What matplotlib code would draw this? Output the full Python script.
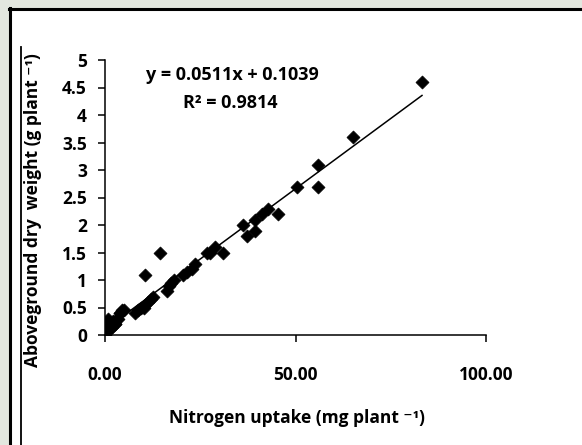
import matplotlib
matplotlib.use('Agg')
import matplotlib.pyplot as plt
from matplotlib.patches import Rectangle
from matplotlib.lines import Line2D

# Datos
nitrogen_uptake = [0.0, 0.2, 0.3, 0.5, 0.8, 1.0, 1.3, 1.5, 1.8, 2.1, 2.5, 2.6, 3.1,
                   3.5, 3.9, 4.0, 4.5, 5.0, 8.0, 8.6, 9.5, 10.2, 10.5, 11.3, 12.0,
                   12.6, 10.5, 14.4, 16.2, 16.8, 17.4, 18.0, 20.5, 21.5, 22.8, 23.6,
                   26.7, 27.6, 28.9, 31.0, 36.2, 37.2, 39.4, 39.4, 41.2, 42.8, 45.4,
                   50.4, 55.9, 55.9, 65.1, 83.2]
dry_weight = [0.0, 0.05, 0.05, 0.1, 0.3, 0.1, 0.2, 0.15, 0.15, 0.25, 0.2, 0.2, 0.3,
              0.3, 0.4, 0.4, 0.45, 0.45, 0.4, 0.45, 0.5, 0.5, 0.55, 0.6, 0.65,
              0.7, 1.1, 1.5, 0.8, 0.9, 0.95, 1.0, 1.1, 1.15, 1.2, 1.3,
              1.5, 1.5, 1.6, 1.5, 2.0, 1.8, 2.1, 1.9, 2.2, 2.3, 2.2,
              2.7, 3.1, 2.7, 3.6, 4.6]

# Línea de tendencia indicada en el gráfico
slope = 0.0511
intercept = 0.1039
r2 = 0.9814

x_ticks = [0, 50, 100]
y_ticks = [0, 0.5, 1, 1.5, 2, 2.5, 3, 3.5, 4, 4.5, 5]

W, H = 582, 445
fam = ['Open Sans', 'DejaVu Sans']
plt.rcParams['font.family'] = fam
plt.rcParams['font.weight'] = 'bold'
fs = 12.5

fig = plt.figure(figsize=(W / 100, H / 100), dpi=100)

# Marco exterior
def fx(px):
    return px / W

def fy(py):
    return 1 - py / H

fig.add_artist(Rectangle((0, 0), 1, 1, transform=fig.transFigure,
                         facecolor='#e3e7df', edgecolor='none', zorder=-3))
fig.add_artist(Rectangle((fx(9), 0), 1, fy(8), transform=fig.transFigure,
                         facecolor='white', edgecolor='none', zorder=-2))
fig.add_artist(Line2D([fx(9), 1], [fy(8.5), fy(8.5)], transform=fig.transFigure,
                      color='black', lw=2.2))
fig.add_artist(Line2D([fx(9.5), fx(9.5)], [0, fy(8)], transform=fig.transFigure,
                      color='black', lw=2.2))
fig.add_artist(Line2D([fx(21), fx(21)], [0, fy(47)], transform=fig.transFigure,
                      color='black', lw=1.3))

ax = fig.add_axes([fx(105), fy(335), fx(486) - fx(105), fy(60) - fy(335)])
ax.set_facecolor('none')

ax.scatter(nitrogen_uptake, dry_weight, marker='D', s=44, color='black',
           edgecolors='black', linewidths=0.5, zorder=3)

x_min, x_max = min(nitrogen_uptake), max(nitrogen_uptake)
ax.plot([x_min, x_max], [slope * x_min + intercept, slope * x_max + intercept],
        color='black', lw=1.1, zorder=2)

ax.set_xlim(0, 100)
ax.set_ylim(0, 5)
ax.set_xticks(x_ticks)
ax.set_xticklabels([f'{v:.2f}' for v in x_ticks])
ax.set_yticks(y_ticks)
ax.set_yticklabels([f'{v:g}' for v in y_ticks])

for s in ['top', 'right']:
    ax.spines[s].set_visible(False)
for s in ['left', 'bottom']:
    ax.spines[s].set_linewidth(1.1)
ax.tick_params(direction='out', length=5, width=1.1, labelsize=fs, pad=8)
ax.tick_params(axis='x', pad=17)

ax.set_xlabel('Nitrogen uptake (mg plant \u207b\u00b9)', fontsize=fs,
              fontweight='bold')
ax.set_ylabel('Aboveground dry  weight (g plant \u207b\u00b9)', fontsize=fs,
              fontweight='bold')
ax.xaxis.set_label_coords(0.504, -0.302)
ax.yaxis.set_label_coords(-0.189, 0.455)
ax.xaxis.label.set_va('center')
ax.yaxis.label.set_va('center')

ax.text(0.335, 0.945, f'y = {slope}x + {intercept}', transform=ax.transAxes,
        ha='center', va='center', fontsize=13, fontweight='bold')
ax.text(0.33, 0.845, f'R\u00b2 = {r2}', transform=ax.transAxes,
        ha='center', va='center', fontsize=13, fontweight='bold')

fig.savefig('out.png', dpi=100)
